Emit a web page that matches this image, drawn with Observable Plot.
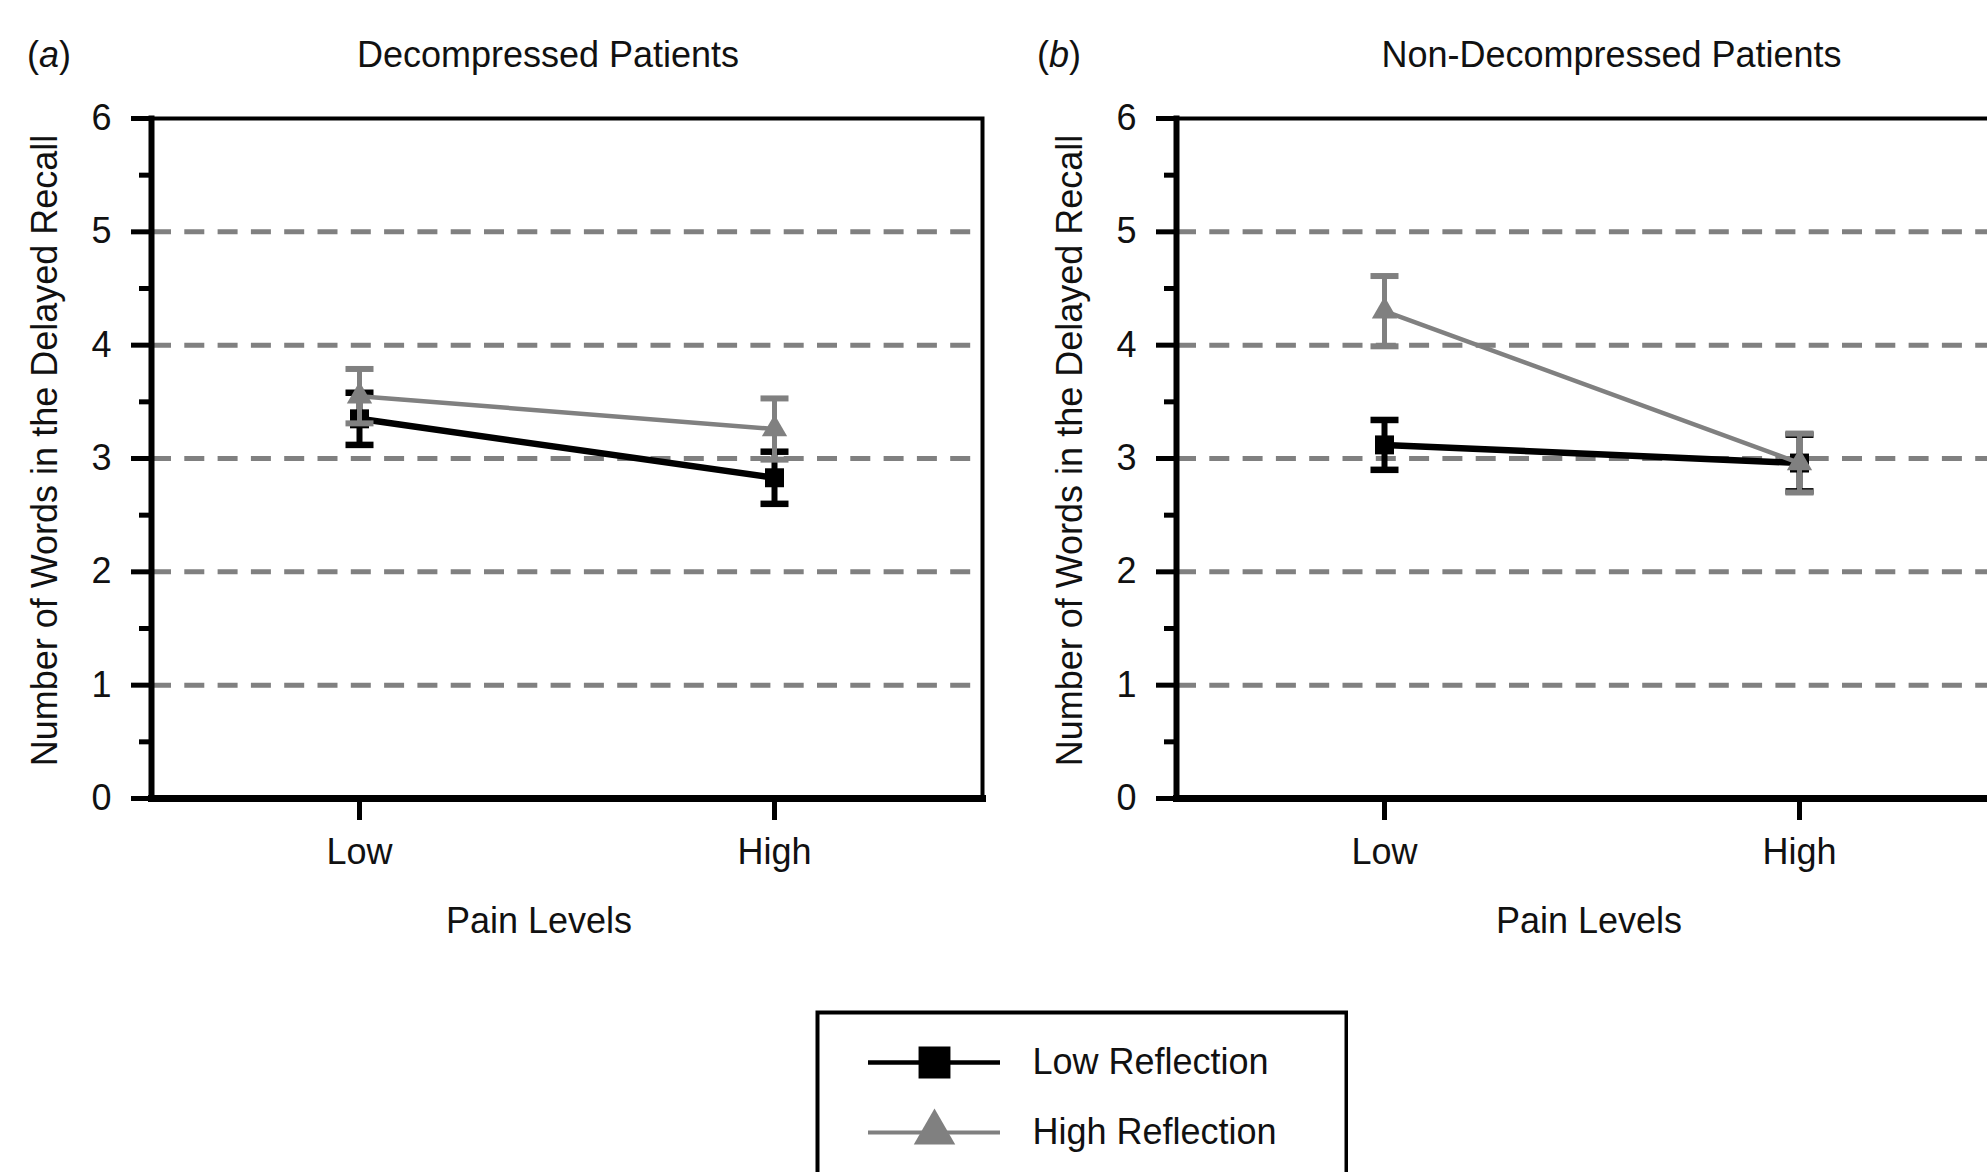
<!DOCTYPE html>
<html>
<head>
<meta charset="utf-8">
<script src="https://cdn.jsdelivr.net/npm/d3@7"></script>
<script src="https://cdn.jsdelivr.net/npm/@observablehq/plot@0.6"></script>
<style>
  html, body { margin: 0; padding: 0; overflow: hidden; background: #fff; }
  body { width: 1987px; height: 1172px; position: relative; font-family: "Liberation Sans", Arial, sans-serif; }
  .abs { position: absolute; }
  .letter { font-size: 36px; line-height: 36px; color: #111; }
  svg { max-width: none !important; }
</style>
</head>
<body>
<div id="panelA" class="abs" style="left:0px; top:0px; width:992px;"></div>
<div id="panelB" class="abs" style="left:1025px; top:0px; width:992px;"></div>
<div id="letterA" class="abs letter" style="left:27px; top:37px;"></div>
<div id="letterB" class="abs letter" style="left:1037px; top:37px;"></div>
<div id="legend" class="abs" style="left:815px; top:1010px; width:533px;"></div>
<script>
// ---- data ----
const painLevels = ["Low", "High"];
const seriesNames = ["Low Reflection", "High Reflection"];
const panelTitles = ["Decompressed Patients", "Non-Decompressed Patients"];
const panelLetters = ["a", "b"];
const yLabel = "Number of Words in the Delayed Recall";
const xLabel = "Pain Levels";
const yTicks = [0, 1, 2, 3, 4, 5, 6];
const yMinorTicks = [0.5, 1.5, 2.5, 3.5, 4.5, 5.5];
const gridValues = [1, 2, 3, 4, 5];

const decompLowReflMean = [3.35, 2.83];
const decompLowReflSE = [0.23, 0.23];
const decompHighReflMean = [3.55, 3.26];
const decompHighReflSE = [0.24, 0.27];

const nonDecompLowReflMean = [3.12, 2.96];
const nonDecompLowReflSE = [0.22, 0.25];
const nonDecompHighReflMean = [4.30, 2.96];
const nonDecompHighReflSE = [0.31, 0.26];

// ---- styling ----
const FONT = "Liberation Sans, Arial, sans-serif";
const TEXT = "#111";
const GRAY = "#808080";
const seriesStyle = {
  "Low Reflection":  {color: "#000", line: 6.5, err: 6, cap: 6.5, symbol: "square",   r: 10.7, legendR: 18.0, legendLine: 4.5},
  "High Reflection": {color: GRAY,   line: 4.5, err: 5, cap: 6,   symbol: "triangle", r: 9.4,  legendR: 15.4, legendLine: 4}
};
const panelLayout = [
  {titleDx: -19, xLabelDx: -28},
  {titleDx: 19.5, xLabelDx: -3}
];

const panelData = [
  {"Low Reflection": [decompLowReflMean, decompLowReflSE], "High Reflection": [decompHighReflMean, decompHighReflSE]},
  {"Low Reflection": [nonDecompLowReflMean, nonDecompLowReflSE], "High Reflection": [nonDecompHighReflMean, nonDecompHighReflSE]}
];

// horizontal error-bar cap symbol
const capSymbol = {
  draw(context, size) {
    const w = Math.sqrt(size) / 2;
    context.moveTo(-w, 0);
    context.lineTo(w, 0);
  }
};

function makePanel(k) {
  const marks = [
    Plot.ruleY(gridValues, {stroke: GRAY, strokeWidth: 5, strokeDasharray: "20,13.3"}),
    Plot.frame({stroke: "#000", strokeWidth: 4}),
    Plot.frame({anchor: "left", stroke: "#000", strokeWidth: 6}),
    Plot.frame({anchor: "bottom", stroke: "#000", strokeWidth: 7}),
    Plot.axisY({ticks: yTicks, tickFormat: d => String(d), tickSize: 20, tickPadding: 20, strokeWidth: 5, fontSize: 36, fill: TEXT, label: null}),
    Plot.axisY({ticks: yMinorTicks, tickSize: 12, tickPadding: 0, strokeWidth: 5, tickFormat: () => "", label: null}),
    Plot.axisX({tickSize: 22, tickPadding: 18, strokeWidth: 5, fontSize: 36, fill: TEXT, label: null}),
    Plot.text([panelTitles[k]], {text: d => d, frameAnchor: "top", dx: panelLayout[k].titleDx, dy: -63, lineAnchor: "middle", fontSize: 36, fill: TEXT}),
    Plot.text([yLabel], {text: d => d, frameAnchor: "left", dx: -106.5, dy: -8, rotate: -90, textAnchor: "middle", lineAnchor: "middle", fontSize: 36, fill: TEXT}),
    Plot.text([xLabel], {text: d => d, frameAnchor: "bottom", dx: panelLayout[k].xLabelDx, dy: 123, lineAnchor: "middle", fontSize: 36, fill: TEXT})
  ];
  for (const s of seriesNames) {
    const [means, ses] = panelData[k][s];
    const rows = painLevels.map((p, i) => ({pain: p, mean: means[i], se: ses[i]}));
    const st = seriesStyle[s];
    marks.push(
      Plot.line(rows, {x: "pain", y: "mean", stroke: st.color, strokeWidth: st.line}),
      Plot.ruleX(rows, {x: "pain", y1: d => d.mean - d.se, y2: d => d.mean + d.se, stroke: st.color, strokeWidth: st.err}),
      Plot.dot(rows, {x: "pain", y: d => d.mean + d.se, symbol: capSymbol, r: 15.8, fill: "none", stroke: st.color, strokeWidth: st.cap}),
      Plot.dot(rows, {x: "pain", y: d => d.mean - d.se, symbol: capSymbol, r: 15.8, fill: "none", stroke: st.color, strokeWidth: st.cap}),
      Plot.dot(rows, {x: "pain", y: "mean", symbol: st.symbol, r: st.r, fill: st.color, stroke: "none"})
    );
  }
  return Plot.plot({
    width: 992,
    height: 978,
    marginTop: 118,
    marginLeft: 151,
    marginRight: 10,
    marginBottom: 180,
    x: {type: "point", domain: painLevels, padding: 0.5, label: null},
    y: {domain: [0, 6], label: null},
    style: {fontFamily: FONT, fontSize: "36px", color: "#000", background: "transparent", overflow: "visible", maxWidth: "none"},
    marks
  });
}

function makeLegend() {
  const marks = [Plot.frame({stroke: "#000", strokeWidth: 4, inset: 2})];
  for (const s of seriesNames) {
    const st = seriesStyle[s];
    marks.push(
      Plot.ruleY([s], {y: d => d, insetLeft: 53, insetRight: 348, stroke: st.color, strokeWidth: st.legendLine}),
      Plot.dot([s], {y: d => d, frameAnchor: "left", dx: 119, symbol: st.symbol, r: st.legendR, fill: st.color, stroke: "none"}),
      Plot.text([s], {y: d => d, text: d => d, frameAnchor: "left", dx: 217, textAnchor: "start", lineAnchor: "middle", fontSize: 36, fill: TEXT})
    );
  }
  return Plot.plot({
    width: 533,
    height: 200,
    margin: 0,
    y: {type: "point", domain: seriesNames, range: [51.7, 121.7], padding: 0, axis: null, label: null},
    style: {fontFamily: FONT, fontSize: "36px", color: "#000", background: "transparent", maxWidth: "none"},
    marks
  });
}

document.getElementById("panelA").appendChild(makePanel(0));
document.getElementById("panelB").appendChild(makePanel(1));
document.getElementById("legend").appendChild(makeLegend());
["letterA", "letterB"].forEach((id, k) => {
  const el = document.getElementById(id);
  el.append("(");
  const i = document.createElement("i");
  i.textContent = panelLetters[k];
  el.append(i, ")");
});
</script>
</body>
</html>
